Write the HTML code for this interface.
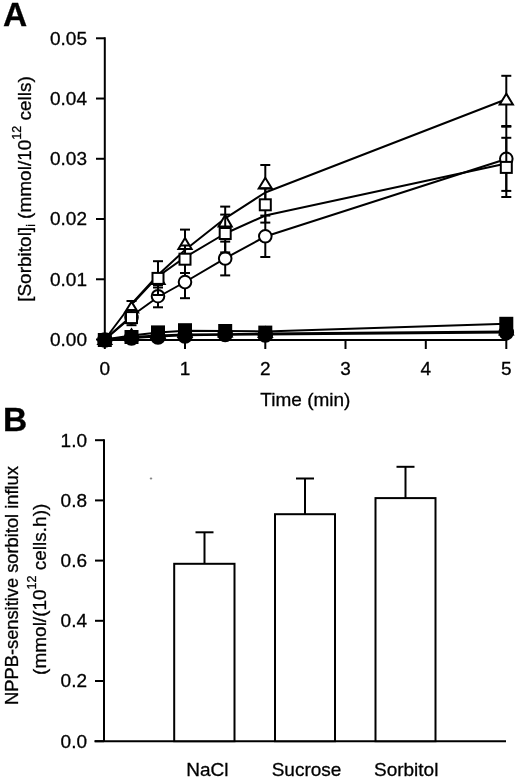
<!DOCTYPE html>
<html><head><meta charset="utf-8"><style>
html,body{margin:0;padding:0;background:#fff;}
svg{display:block;will-change:transform;}
text{font-family:"Liberation Sans", sans-serif;fill:#000;stroke:#000;stroke-width:0.3px;}
</style></head><body>
<svg width="520" height="781" viewBox="0 0 520 781" stroke="#000" stroke-linecap="butt">
<g stroke="none">
</g>
<line x1="104.8" y1="37.3" x2="104.8" y2="339.5" stroke-width="2.0"/>
<line x1="104.8" y1="340.0" x2="507.3" y2="340.0" stroke-width="2.0"/>
<line x1="96" y1="38.3" x2="104.8" y2="38.3" stroke-width="2.0"/>
<text x="87" y="44.699999999999996" font-size="19" text-anchor="end" >0.05</text>
<line x1="96" y1="98.53999999999999" x2="104.8" y2="98.53999999999999" stroke-width="2.0"/>
<text x="87" y="104.94" font-size="19" text-anchor="end" >0.04</text>
<line x1="96" y1="158.77999999999997" x2="104.8" y2="158.77999999999997" stroke-width="2.0"/>
<text x="87" y="165.17999999999998" font-size="19" text-anchor="end" >0.03</text>
<line x1="96" y1="219.01999999999998" x2="104.8" y2="219.01999999999998" stroke-width="2.0"/>
<text x="87" y="225.42" font-size="19" text-anchor="end" >0.02</text>
<line x1="96" y1="279.26" x2="104.8" y2="279.26" stroke-width="2.0"/>
<text x="87" y="285.65999999999997" font-size="19" text-anchor="end" >0.01</text>
<line x1="96" y1="339.5" x2="104.8" y2="339.5" stroke-width="2.0"/>
<text x="87" y="345.9" font-size="19" text-anchor="end" >0.00</text>
<line x1="104.8" y1="340.0" x2="104.8" y2="349" stroke-width="2.0"/>
<text x="104.8" y="375" font-size="19" text-anchor="middle" >0</text>
<line x1="185.0" y1="340.0" x2="185.0" y2="349" stroke-width="2.0"/>
<text x="185.0" y="375" font-size="19" text-anchor="middle" >1</text>
<line x1="265.3" y1="340.0" x2="265.3" y2="349" stroke-width="2.0"/>
<text x="265.3" y="375" font-size="19" text-anchor="middle" >2</text>
<line x1="345.5" y1="340.0" x2="345.5" y2="349" stroke-width="2.0"/>
<text x="345.5" y="375" font-size="19" text-anchor="middle" >3</text>
<line x1="425.8" y1="340.0" x2="425.8" y2="349" stroke-width="2.0"/>
<text x="425.8" y="375" font-size="19" text-anchor="middle" >4</text>
<line x1="506.3" y1="340.0" x2="506.3" y2="349" stroke-width="2.0"/>
<text x="506.3" y="375" font-size="19" text-anchor="middle" >5</text>
<text x="305.4" y="406" font-size="19" text-anchor="middle" >Time (min)</text>
<text x="3" y="25.8" font-size="33.5" text-anchor="start" font-weight="bold">A</text>
<text transform="translate(30.7,189) rotate(-90)" font-size="19" text-anchor="middle">[Sorbitol]<tspan font-size="12" dy="4.5">i</tspan><tspan dy="-4.5"> (mmol/10</tspan><tspan font-size="12.5" dy="-10">12</tspan><tspan dy="10"> cells)</tspan></text>
<polyline points="104.8,339.5 131.5,316 158,297 185,282 225.2,258.3 265.3,236.5 506.3,159" fill="none" stroke-width="2.0" stroke-linejoin="round"/>
<line x1="158" y1="285.1" x2="158" y2="307.3" stroke-width="2.0"/>
<line x1="153.0" y1="285.1" x2="163.0" y2="285.1" stroke-width="2.0"/>
<line x1="153.0" y1="307.3" x2="163.0" y2="307.3" stroke-width="2.0"/>
<line x1="185" y1="263.5" x2="185" y2="298.2" stroke-width="2.0"/>
<line x1="180.0" y1="263.5" x2="190.0" y2="263.5" stroke-width="2.0"/>
<line x1="180.0" y1="298.2" x2="190.0" y2="298.2" stroke-width="2.0"/>
<line x1="225.2" y1="241.6" x2="225.2" y2="275.4" stroke-width="2.0"/>
<line x1="220.2" y1="241.6" x2="230.2" y2="241.6" stroke-width="2.0"/>
<line x1="220.2" y1="275.4" x2="230.2" y2="275.4" stroke-width="2.0"/>
<line x1="265.3" y1="215.6" x2="265.3" y2="257" stroke-width="2.0"/>
<line x1="260.3" y1="215.6" x2="270.3" y2="215.6" stroke-width="2.0"/>
<line x1="260.3" y1="257" x2="270.3" y2="257" stroke-width="2.0"/>
<line x1="506.3" y1="126.7" x2="506.3" y2="190.9" stroke-width="2.0"/>
<line x1="501.3" y1="126.7" x2="511.3" y2="126.7" stroke-width="2.0"/>
<line x1="501.3" y1="190.9" x2="511.3" y2="190.9" stroke-width="2.0"/>
<circle cx="131.5" cy="317.5" r="6.3" fill="#fff" stroke-width="2.0"/>
<circle cx="158" cy="296.2" r="6.3" fill="#fff" stroke-width="2.0"/>
<circle cx="185" cy="282.1" r="6.3" fill="#fff" stroke-width="2.0"/>
<circle cx="225.2" cy="258.5" r="6.3" fill="#fff" stroke-width="2.0"/>
<circle cx="265.3" cy="236.3" r="6.3" fill="#fff" stroke-width="2.0"/>
<circle cx="506.3" cy="158.8" r="6.3" fill="#fff" stroke-width="2.0"/>
<polyline points="104.8,339.5 131.5,304 158,275 185,250 225.2,218.3 265.3,192.5 506.3,99.2" fill="none" stroke-width="2.0" stroke-linejoin="round"/>
<line x1="131.5" y1="301" x2="131.5" y2="321" stroke-width="2.0"/>
<line x1="126.5" y1="301" x2="136.5" y2="301" stroke-width="2.0"/>
<line x1="126.5" y1="321" x2="136.5" y2="321" stroke-width="2.0"/>
<line x1="158" y1="261.2" x2="158" y2="295" stroke-width="2.0"/>
<line x1="153.0" y1="261.2" x2="163.0" y2="261.2" stroke-width="2.0"/>
<line x1="153.0" y1="295" x2="163.0" y2="295" stroke-width="2.0"/>
<line x1="185" y1="229.6" x2="185" y2="260.6" stroke-width="2.0"/>
<line x1="180.0" y1="229.6" x2="190.0" y2="229.6" stroke-width="2.0"/>
<line x1="180.0" y1="260.6" x2="190.0" y2="260.6" stroke-width="2.0"/>
<line x1="225.2" y1="206.6" x2="225.2" y2="237.4" stroke-width="2.0"/>
<line x1="220.2" y1="206.6" x2="230.2" y2="206.6" stroke-width="2.0"/>
<line x1="220.2" y1="237.4" x2="230.2" y2="237.4" stroke-width="2.0"/>
<line x1="265.3" y1="165" x2="265.3" y2="205.7" stroke-width="2.0"/>
<line x1="260.3" y1="165" x2="270.3" y2="165" stroke-width="2.0"/>
<line x1="260.3" y1="205.7" x2="270.3" y2="205.7" stroke-width="2.0"/>
<line x1="506.3" y1="75.8" x2="506.3" y2="126" stroke-width="2.0"/>
<line x1="501.3" y1="75.8" x2="511.3" y2="75.8" stroke-width="2.0"/>
<line x1="501.3" y1="126" x2="511.3" y2="126" stroke-width="2.0"/>
<polygon points="131.5,301.7 124.9,312.5 138.1,312.5" fill="#fff" stroke-width="2.0" stroke-linejoin="miter"/>
<polygon points="158,273.2 151.4,284.0 164.6,284.0" fill="#fff" stroke-width="2.0" stroke-linejoin="miter"/>
<polygon points="185,238.0 178.4,249.0 191.6,249.0" fill="#fff" stroke-width="2.0" stroke-linejoin="miter"/>
<polygon points="225.2,215.0 218.6,226.5 231.79999999999998,226.5" fill="#fff" stroke-width="2.0" stroke-linejoin="miter"/>
<polygon points="265.3,177.79999999999998 258.7,188.6 271.90000000000003,188.6" fill="#fff" stroke-width="2.0" stroke-linejoin="miter"/>
<polygon points="506.3,93.7 499.7,104.5 512.9,104.5" fill="#fff" stroke-width="2.0" stroke-linejoin="miter"/>
<polyline points="104.8,339.5 131.5,317" fill="none" stroke-width="2.0" stroke-linejoin="round"/>
<polyline points="133.5,302.5 158,276.4 185,257.3 225.2,233.5 265.3,215.5 506.3,163.6" fill="none" stroke-width="2.0" stroke-linejoin="round"/>
<line x1="131.5" y1="310" x2="131.5" y2="325.2" stroke-width="2.0"/>
<line x1="126.5" y1="310" x2="136.5" y2="310" stroke-width="2.0"/>
<line x1="126.5" y1="325.2" x2="136.5" y2="325.2" stroke-width="2.0"/>
<line x1="158" y1="278" x2="158" y2="287.5" stroke-width="2.0"/>
<line x1="153.0" y1="278" x2="163.0" y2="278" stroke-width="2.0"/>
<line x1="153.0" y1="287.5" x2="163.0" y2="287.5" stroke-width="2.0"/>
<line x1="185" y1="245.5" x2="185" y2="273" stroke-width="2.0"/>
<line x1="180.0" y1="245.5" x2="190.0" y2="245.5" stroke-width="2.0"/>
<line x1="180.0" y1="273" x2="190.0" y2="273" stroke-width="2.0"/>
<line x1="225.2" y1="214.6" x2="225.2" y2="252.4" stroke-width="2.0"/>
<line x1="220.2" y1="214.6" x2="230.2" y2="214.6" stroke-width="2.0"/>
<line x1="220.2" y1="252.4" x2="230.2" y2="252.4" stroke-width="2.0"/>
<line x1="265.3" y1="188.3" x2="265.3" y2="222.6" stroke-width="2.0"/>
<line x1="260.3" y1="188.3" x2="270.3" y2="188.3" stroke-width="2.0"/>
<line x1="260.3" y1="222.6" x2="270.3" y2="222.6" stroke-width="2.0"/>
<line x1="506.3" y1="137.8" x2="506.3" y2="197" stroke-width="2.0"/>
<line x1="501.3" y1="137.8" x2="511.3" y2="137.8" stroke-width="2.0"/>
<line x1="501.3" y1="197" x2="511.3" y2="197" stroke-width="2.0"/>
<rect x="126.0" y="312.1" width="11.0" height="11.0" fill="#fff" stroke-width="2.0"/>
<rect x="152.5" y="272.9" width="11.0" height="11.0" fill="#fff" stroke-width="2.0"/>
<rect x="179.5" y="253.7" width="11.0" height="11.0" fill="#fff" stroke-width="2.0"/>
<rect x="219.7" y="228.0" width="11.0" height="11.0" fill="#fff" stroke-width="2.0"/>
<rect x="259.8" y="199.3" width="11.0" height="11.0" fill="#fff" stroke-width="2.0"/>
<rect x="500.8" y="161.9" width="11.0" height="11.0" fill="#fff" stroke-width="2.0"/>
<polyline points="104.8,339.5 131.5,338 158,336.5 185,335.2 225.2,334.8 265.3,334.5 506.3,332.5" fill="none" stroke-width="2.0" stroke-linejoin="round"/>
<polyline points="104.8,339.5 131.5,337 158,335.5 185,334.6 225.2,334.2 265.3,333.6 506.3,331.5" fill="none" stroke-width="2.0" stroke-linejoin="round"/>
<polyline points="104.8,339.5 131.5,335.5 158,332.5 185,330.8 225.2,331.0 265.3,331.4 506.3,323.8" fill="none" stroke-width="2.0" stroke-linejoin="round"/>
<circle cx="104.8" cy="340" r="6.8" fill="#000" stroke-width="2.0"/>
<circle cx="131.5" cy="338" r="6.8" fill="#000" stroke-width="2.0"/>
<circle cx="158" cy="337" r="6.8" fill="#000" stroke-width="2.0"/>
<circle cx="185" cy="336" r="6.8" fill="#000" stroke-width="2.0"/>
<circle cx="225.2" cy="334.5" r="6.8" fill="#000" stroke-width="2.0"/>
<circle cx="265.3" cy="335" r="6.8" fill="#000" stroke-width="2.0"/>
<circle cx="506.3" cy="332.5" r="6.8" fill="#000" stroke-width="2.0"/>
<polygon points="104.8,334.2 98.3,344.0 111.3,344.0" fill="#000" stroke-width="2.0" stroke-linejoin="miter"/>
<polygon points="131.5,329.2 125.0,339.0 138.0,339.0" fill="#000" stroke-width="2.0" stroke-linejoin="miter"/>
<polygon points="158,328.2 151.5,338.0 164.5,338.0" fill="#000" stroke-width="2.0" stroke-linejoin="miter"/>
<polygon points="185,327.2 178.5,337.0 191.5,337.0" fill="#000" stroke-width="2.0" stroke-linejoin="miter"/>
<polygon points="225.2,326.7 218.7,336.5 231.7,336.5" fill="#000" stroke-width="2.0" stroke-linejoin="miter"/>
<polygon points="265.3,327.2 258.8,337.0 271.8,337.0" fill="#000" stroke-width="2.0" stroke-linejoin="miter"/>
<polygon points="506.3,324.7 499.8,334.5 512.8,334.5" fill="#000" stroke-width="2.0" stroke-linejoin="miter"/>
<rect x="98.8" y="334" width="12" height="12" fill="#000" stroke-width="2.0"/>
<rect x="125.5" y="331" width="12" height="12" fill="#000" stroke-width="2.0"/>
<rect x="152" y="326.4" width="12" height="12" fill="#000" stroke-width="2.0"/>
<rect x="179" y="324.2" width="12" height="12" fill="#000" stroke-width="2.0"/>
<rect x="219.2" y="325" width="12" height="12" fill="#000" stroke-width="2.0"/>
<rect x="259.3" y="326.6" width="12" height="12" fill="#000" stroke-width="2.0"/>
<rect x="500.3" y="317.8" width="12" height="12" fill="#000" stroke-width="2.0"/>
<line x1="104.0" y1="439.2" x2="104.0" y2="741.2" stroke-width="2.0"/>
<line x1="94.4" y1="741.2" x2="506" y2="741.2" stroke-width="2.0"/>
<line x1="95" y1="440.2" x2="104.0" y2="440.2" stroke-width="2.0"/>
<text x="87" y="446.59999999999997" font-size="19" text-anchor="end" >1.0</text>
<line x1="95" y1="500.4" x2="104.0" y2="500.4" stroke-width="2.0"/>
<text x="87" y="506.79999999999995" font-size="19" text-anchor="end" >0.8</text>
<line x1="95" y1="560.6" x2="104.0" y2="560.6" stroke-width="2.0"/>
<text x="87" y="567.0" font-size="19" text-anchor="end" >0.6</text>
<line x1="95" y1="620.8" x2="104.0" y2="620.8" stroke-width="2.0"/>
<text x="87" y="627.1999999999999" font-size="19" text-anchor="end" >0.4</text>
<line x1="95" y1="681.0" x2="104.0" y2="681.0" stroke-width="2.0"/>
<text x="87" y="687.4" font-size="19" text-anchor="end" >0.2</text>
<line x1="95" y1="741.2" x2="104.0" y2="741.2" stroke-width="2.0"/>
<text x="87" y="747.6" font-size="19" text-anchor="end" >0.0</text>
<line x1="204.5" y1="532.3" x2="204.5" y2="563.8" stroke-width="2.0"/>
<line x1="195.5" y1="532.3" x2="213.5" y2="532.3" stroke-width="2.0"/>
<rect x="174.2" y="563.8" width="60.30000000000001" height="177.4000000000001" fill="#fff" stroke-width="2.0"/>
<text x="207.4" y="775.8" font-size="19" text-anchor="middle" >NaCl</text>
<line x1="305" y1="478.5" x2="305" y2="514.2" stroke-width="2.0"/>
<line x1="296" y1="478.5" x2="314" y2="478.5" stroke-width="2.0"/>
<rect x="275" y="514.2" width="60" height="227.0" fill="#fff" stroke-width="2.0"/>
<text x="306.5" y="775.8" font-size="19" text-anchor="middle" >Sucrose</text>
<line x1="405.5" y1="466.8" x2="405.5" y2="498.1" stroke-width="2.0"/>
<line x1="396.5" y1="466.8" x2="414.5" y2="466.8" stroke-width="2.0"/>
<rect x="375.5" y="498.1" width="60.0" height="243.10000000000002" fill="#fff" stroke-width="2.0"/>
<text x="406.2" y="775.8" font-size="19" text-anchor="middle" >Sorbitol</text>
<text x="3" y="431.2" font-size="33.5" text-anchor="start" font-weight="bold">B</text>
<text transform="translate(18,585.5) rotate(-90)" font-size="18.3" text-anchor="middle">NPPB-sensitive sorbitol influx</text>
<text transform="translate(45.6,589.3) rotate(-90)" font-size="19" text-anchor="middle">(mmol/(10<tspan font-size="12.5" dy="-10">12</tspan><tspan dy="10"> cells.h))</tspan></text>
<ellipse cx="151" cy="478.5" rx="1.3" ry="0.9" fill="#888" stroke="none"/>
</svg>
</body></html>
